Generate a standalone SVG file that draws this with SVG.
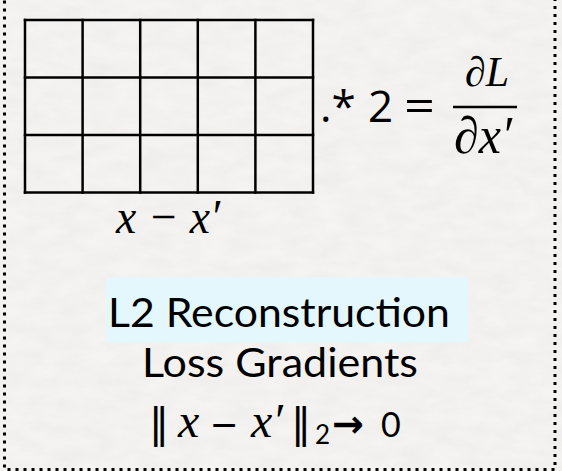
<svg xmlns="http://www.w3.org/2000/svg" width="562" height="471" viewBox="0 0 562 471">
<defs>
<filter id="paper" x="0" y="0" width="100%" height="100%">
<feTurbulence type="fractalNoise" baseFrequency="0.035 0.08" numOctaves="4" seed="3"/>
<feColorMatrix type="matrix" values="0 0 0 0 0.6  0 0 0 0 0.59  0 0 0 0 0.57  0 0 0 -0.9 0.7"/>
</filter>
</defs>
<style>
.grid line{stroke:#000;stroke-width:2.5;stroke-linecap:square}
.m{font-family:"Liberation Serif",serif;font-style:italic;fill:#000}
.s{font-family:"Open Sans","Liberation Sans",sans-serif;fill:#000}
.h{font-family:Lato,"Open Sans",sans-serif;fill:#000}
.d{font-family:"DejaVu Sans",sans-serif;fill:#000}
</style>
<rect width="562" height="471" fill="#f5f4f2"/>
<rect width="562" height="471" filter="url(#paper)" opacity="0.25"/>
<g id="frame">
<rect x="4.5" y="-19.5" width="550.5" height="489" fill="none" stroke="#000" stroke-width="3" stroke-dasharray="3 5"/>
</g>
<g id="grid" class="grid">
<line x1="25" y1="20" x2="313" y2="20"/>
<line x1="25" y1="77.5" x2="313" y2="77.5"/>
<line x1="25" y1="135" x2="313" y2="135"/>
<line x1="25" y1="192.5" x2="313" y2="192.5"/>
<line x1="25" y1="20" x2="25" y2="192.5"/>
<line x1="82.6" y1="20" x2="82.6" y2="192.5"/>
<line x1="140.2" y1="20" x2="140.2" y2="192.5"/>
<line x1="197.8" y1="20" x2="197.8" y2="192.5"/>
<line x1="255.4" y1="20" x2="255.4" y2="192.5"/>
<line x1="313" y1="20" x2="313" y2="192.5"/>
</g>
<g id="grid-label">
<text class="m" x="168" y="233" font-size="48" text-anchor="middle" textLength="104" lengthAdjust="spacingAndGlyphs">x − x′</text>
</g>
<g id="formula">
<text class="s" x="320" y="122" font-size="44">.*</text>
<text class="s" x="368" y="122" font-size="44">2</text>
<text class="s" x="404" y="122" font-size="44" textLength="31" lengthAdjust="spacingAndGlyphs">=</text>
<line x1="453" y1="107" x2="517" y2="107" stroke="#000" stroke-width="2.5"/>
<text class="m" x="487" y="86" font-size="42" text-anchor="middle">∂L</text>
<text class="m" x="483" y="153" font-size="52" text-anchor="middle" textLength="58" lengthAdjust="spacingAndGlyphs">∂x′</text>
</g>
<g id="caption">
<rect x="106" y="277" width="362" height="65" fill="#e3f7fc"/>
<text class="h" x="279" y="327" font-size="40" text-anchor="middle" textLength="342" lengthAdjust="spacingAndGlyphs">L2 Reconstruction</text>
<text class="h" x="280" y="377" font-size="40" text-anchor="middle" textLength="276" lengthAdjust="spacingAndGlyphs">Loss Gradients</text>
<text y="437"><tspan class="d" x="149" font-size="40">‖</tspan><tspan class="m" x="178" font-size="48">x</tspan><tspan class="s" x="211" y="442" font-size="46">−</tspan><tspan class="m" x="251" y="437" font-size="48">x′</tspan><tspan class="d" x="291" font-size="40">‖</tspan><tspan class="h" x="315" y="444" font-size="26">2</tspan><tspan class="d" x="332" y="437" font-size="38" font-weight="bold">→</tspan><tspan class="h" x="381" font-size="34">0</tspan></text>
</g>
</svg>
